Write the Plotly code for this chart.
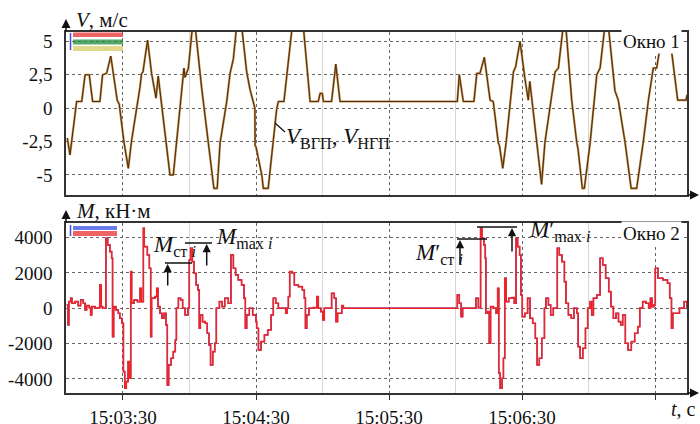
import plotly.graph_objects as go

# ---------------- data ----------------
# time in seconds after 15:00:00
V_t = [184.9, 186.1, 189.1, 191.4, 192.9, 194.8, 196.3, 199.6, 200.8, 202.6, 204.5, 205.9, 207.4, 208.3,
       210.5, 212.4, 213.9, 217.7, 218.4, 219.0, 221.1, 222.9, 224.9, 225.9, 229.4, 231.2, 232.7, 234.2,
       237.5, 238.0, 239.5, 241.4, 242.5, 245.5, 248.5, 251.0, 252.5, 253.8, 256.8, 258.3, 259.8, 261.3,
       263.5, 265.8, 267.3, 269.5, 269.6, 270.0, 272.6, 273.3, 275.5, 278.3, 279.3, 280.1, 282.6, 286.4,
       291.3, 294.4, 298.1, 298.9, 299.9, 300.4, 304.1, 306.0, 307.9, 360.8, 361.7, 363.5, 368.3, 369.6,
       371.0, 373.0, 375.6, 377.0, 379.3, 379.8, 381.3, 382.8, 386.1, 387.1, 389.1, 391.3, 392.8, 393.5,
       396.6, 397.0, 398.8, 400.3, 404.1, 404.9, 406.4, 408.6, 409.7, 412.4, 414.7, 415.2, 417.2, 418.1,
       420.7, 422.9, 423.7, 425.2, 427.4, 428.9, 431.9, 433.4, 436.5, 439.2, 441.7, 444.7, 447.0, 449.2,
       450.7, 451.9, 453.6, 455.8, 457.5, 460.2, 464.0, 464.4]
V_vgp = [-2.24, -3.5, 0.5, 0.5, 2.5, 2.5, 0.5, 0.5, 2.5, 2.6, 3.9, 2.4, 0.6, 0.3,
         -2.6, -4.5, -2.4, 1.6, 2.6, 2.7, 5.1, 2.6, 0.75, 2.4, -2.7, -5.0, -5.0, -2.6,
         3.0, 2.3, 3.0, 6.2, 6.2, 1.5, -2.6, -6.0, -6.0, -2.6, 0.5, 2.6, 3.7, 6.2,
         6.2, 2.7, 1.4, 0.0, -2.8, -2.9, -5.0, -6.0, -6.0, -1.5, -0.1, 0.5, 0.5, 6.2,
         6.2, 0.5, 0.5, 1.1, 1.1, 0.5, 0.5, 3.3, 0.5, 0.5, 2.5, 0.5, 0.5, 2.6,
         2.6, 3.8, 0.6, 0.5, -2.6, -2.8, -4.5, -2.6, 2.7, 3.1, 5.0, 2.2, 0.6, 2.0,
         -2.6, -2.8, -5.7, -2.6, 2.0, 2.7, 3.0, 6.2, 6.2, 0.6, -2.6, -3.0, -6.0, -6.0,
         -2.6, 1.3, 2.5, 3.0, 6.2, 6.2, 1.3, 0.6, -2.6, -6.0, -6.0, -2.5, 0.6, 3.0,
         3.0, 4.2, 6.2, 6.2, 4.2, 0.6, 0.6, 1.0]
V_ngp = list(V_vgp)

M_t = [184.6, 185.2, 185.6, 186.4, 187.0, 188.4, 189.8, 190.9, 192.1, 192.9, 193.6, 194.8, 195.4, 195.9,
       197.4, 198.9, 199.6, 200.2, 200.8, 202.3, 203.1, 204.1, 204.9, 205.3, 205.8, 206.8, 207.9, 208.6,
       209.5, 210.2, 210.8, 211.5, 212.3, 212.9, 213.5, 213.9, 215.0, 216.5, 217.7, 218.3, 219.2, 219.6,
       221.0, 221.9, 222.5, 222.9, 224.4, 225.2, 225.8, 226.7, 227.6, 228.5, 229.4, 230.0, 230.6, 231.7,
       232.7, 233.6, 234.1, 235.0, 236.0, 236.9, 238.0, 239.3, 239.9, 240.5, 241.3, 242.0, 243.0, 243.8,
       244.4, 244.9, 245.9, 247.1, 248.0, 248.8, 249.5, 250.5, 251.4, 252.1, 253.5, 254.7, 255.9, 257.5,
       258.7, 259.8, 260.8, 262.0, 263.5, 264.6, 265.2, 265.8, 267.0, 268.5, 270.0, 270.3, 271.1, 272.3,
       273.8, 275.3, 276.8, 277.8, 278.9, 280.1, 283.4, 284.0, 284.6, 285.2, 286.4, 287.3, 289.1, 290.9,
       291.8, 292.3, 292.9, 293.9, 295.9, 297.5, 298.1, 299.3, 300.1, 300.8, 304.1, 305.3, 306.1, 306.8,
       308.7, 309.4, 360.5, 360.8, 361.7, 362.5, 363.2, 369.2, 370.3, 371.3, 371.9, 372.8, 373.4, 373.7,
       374.5, 375.2, 375.8, 377.1, 378.3, 379.0, 379.5, 380.1, 381.0, 381.6, 382.2, 382.8, 384.0, 385.5,
       386.5, 387.3, 388.0, 388.9, 389.5, 390.1, 391.3, 392.5, 393.6, 394.8, 396.0, 396.8, 397.8, 398.9,
       400.1, 400.8, 401.9, 402.9, 404.1, 405.9, 406.8, 408.0, 409.1, 409.8, 410.9, 412.2, 413.4, 414.7,
       415.3, 416.2, 417.4, 418.6, 419.6, 420.7, 421.4, 422.2, 423.7, 425.2, 426.4, 427.7, 429.1, 430.1,
       431.2, 432.4, 433.5, 434.5, 435.4, 436.6, 437.8, 439.3, 440.8, 442.2, 443.1, 444.4, 445.9, 447.1,
       447.9, 448.6, 449.5, 450.1, 451.3, 453.5, 455.6, 456.6, 457.4, 458.0, 461.0, 463.1, 464.4]
M_vals = [188, -946, 377, 566, 282, 377, 150, 471, 282, -96, 150, 37, -379, 93,
          0, 37, 1321, 93, 0, 3966, 3588, 3210, 2832, -1607, 93, -96, -284, -568,
          -851, -3590, -4535, -4157, -3024, -3968, 2077, 282, 471, 377, 1132, 377, 4532, 3493,
          3021, 2265, -1607, 566, 660, 1132, 93, -284, -568, -284, -946, -4346, -3212, -2835,
          -2457, -1796, 0, 566, 471, 0, -379, 0, 2738, 3400, 2643, 1982, 1321, 1038,
          -1135, -379, -757, -851, -1418, -2079, -3212, -2457, -1985, 0, 377, 93, 566, 282,
          3021, 2265, 1888, 1604, 1321, 566, -1135, -379, 0, -379, -757, -1135, -2362, -1890,
          -1512, -1229, -379, 566, 282, 0, -284, 0, 660, 2077, 1982, 1321, 1227, 1038,
          566, -1135, -379, 0, 37, 660, 0, -190, -662, 0, 849, 566, -757, -284,
          150, 0, 0, 754, 282, -473, 0, 566, 37, 4532, 3966, 3588, 2832, -284,
          -190, -1985, 93, 0, -284, 1132, -3679, -4535, -3968, -2835, 1699, 377, 566, 604,
          282, 3966, 3493, 3021, 754, -473, -284, 566, -568, -851, -1701, -3212, -2835, -1701,
          0, 566, 188, -379, 0, 3399, 3021, 2643, 1510, 282, -379, -568, 0, -284,
          -2173, -2835, -2268, -1135, 0, 377, -379, 566, 754, 2832, 2455, 1699, 943, 93,
          -568, -284, -757, -946, -379, -1985, -2362, -1890, -1418, -1040, 0, 377, 282, 0,
          566, 93, 188, 2265, 1699, 1604, 1416, 566, -1135, -284, 0, 377, 0]

x_tickvals = [210, 270, 330, 390, 450]
x_ticktext = ["15:03:30", "15:04:30", "15:05:30", "15:06:30", ""]
x_minorvals = [240, 300, 360, 420]
V_tickvals = [5, 2.5, 0, -2.5, -5]
V_ticktext = ["5", "2,5", "0", "-2,5", "-5"]
M_tickvals = [4000, 2000, 0, -2000, -4000]
M_ticktext = ["4000", "2000", "0", "-2000", "-4000"]

# ---------------- layout helpers ----------------
W, H = 700, 424
L, R, T, B = 66, 13, 32, 31
PW, PH = W - L - R, H - T - B


def px(x):
    return (x - L) / PW


def py(y):
    return (H - B - y) / PH


SERIF = "Liberation Serif, Times New Roman, serif"
GRID = "#666"
DOT = "dot"
TICKFONT = dict(family=SERIF, size=19, color="#111")

fig = go.Figure()
fig.add_trace(go.Scatter(x=V_t, y=V_vgp, mode="lines", xaxis="x", yaxis="y",
                         line=dict(color="#c08a40", width=2.2), showlegend=False))
fig.add_trace(go.Scatter(x=V_t, y=V_ngp, mode="lines", xaxis="x", yaxis="y",
                         line=dict(color="#4a2c14", width=1.0), showlegend=False))
fig.add_trace(go.Scatter(x=M_t, y=M_vals, mode="lines", xaxis="x2", yaxis="y2", line_shape="hv",
                         line=dict(color="#2030d0", width=1.3), showlegend=False))
fig.add_trace(go.Scatter(x=M_t, y=M_vals, mode="lines", xaxis="x2", yaxis="y2", line_shape="hv",
                         line=dict(color="#f02424", width=1.6), showlegend=False))

xcommon = dict(range=[184.3, 464.4], tickvals=x_tickvals, showline=True, mirror=True,
               linecolor="#333", linewidth=1.5, showgrid=True, gridcolor=GRID, griddash=DOT,
               gridwidth=1, zeroline=False, automargin=False)
ycommon = dict(showline=True, mirror=True, linecolor="#333", linewidth=1.5, showgrid=True,
               gridcolor=GRID, griddash=DOT, gridwidth=1, zeroline=False, automargin=False,
               tickfont=TICKFONT, ticks="", ticklabelstandoff=8)

fig.update_layout(
    template="none",
    font=dict(family=SERIF, size=19, color="#111"),
    width=W, height=H, margin=dict(l=L, r=R, t=T, b=B, autoexpand=False),
    paper_bgcolor="white", plot_bgcolor="white",
    xaxis=dict(**xcommon, domain=[0, 1], anchor="y", showticklabels=False, ticks="", matches="x2"),
    yaxis=dict(**ycommon, domain=[py(195), 1], anchor="x", range=[-6.5, 5.7],
               tickvals=V_tickvals, ticktext=V_ticktext),
    xaxis2=dict(**xcommon, domain=[0, 1], anchor="y2", ticktext=x_ticktext, ticks="outside",
                ticklen=5, tickcolor="#333", tickfont=TICKFONT, ticklabelstandoff=1),
    yaxis2=dict(**ycommon, domain=[0, py(223)], anchor="x2", range=[-4800, 4830],
                tickvals=M_tickvals, ticktext=M_ticktext),
)

# light solid vertical grid lines at whole minutes
for xr, yr in [("x", "y"), ("x2", "y2")]:
    for mv in x_minorvals:
        fig.add_shape(type="line", xref=xr, yref=yr + " domain", x0=mv, x1=mv, y0=0, y1=1,
                      line=dict(color="#d6d6d6", width=1), layer="below")

ann = []
# axis titles
ann.append(dict(text="<i>V</i>, м/с", xref="paper", yref="paper", x=px(74), y=py(20),
                xanchor="left", yanchor="middle", showarrow=False,
                font=dict(family=SERIF, size=21, color="#111")))
ann.append(dict(text="<i>M</i>, кН·м", xref="paper", yref="paper", x=px(74), y=py(211),
                xanchor="left", yanchor="middle", showarrow=False,
                font=dict(family=SERIF, size=21, color="#111")))
ann.append(dict(text="<i>t</i>, с", xref="paper", yref="paper", x=px(698), y=py(409),
                xanchor="right", yanchor="middle", showarrow=False,
                font=dict(family=SERIF, size=20, color="#111")))
# axis arrows
for (hx, hy, axo, ayo) in [(66, 19, 0, 14), (66, 210, 0, 14), (699, 195, -13, 0), (699, 393, -13, 0)]:
    ann.append(dict(xref="paper", yref="paper", x=px(hx), y=py(hy), ax=axo, ay=ayo, text="",
                    showarrow=True, arrowhead=2, arrowsize=1.2, arrowwidth=1.5, arrowcolor="#111"))
# window labels
ann.append(dict(text="Окно 1", xref="paper", yref="paper", x=px(682), y=py(42), xanchor="right",
                yanchor="middle", showarrow=False, bgcolor="white",
                font=dict(family=SERIF, size=19, color="#111")))
ann.append(dict(text="Окно 2", xref="paper", yref="paper", x=px(682), y=py(233), xanchor="right",
                yanchor="middle", showarrow=False, bgcolor="white",
                font=dict(family=SERIF, size=19, color="#111")))
# V label with leader line
ann.append(dict(text="<i>V</i><sub>ВГП</sub>, <i>V</i><sub>НГП</sub>", xref="paper", yref="paper",
                x=px(284), y=py(138), xanchor="left", yanchor="middle", showarrow=False,
                font=dict(family=SERIF, size=23, color="#111")))
fig.add_shape(type="line", xref="paper", yref="paper", x0=px(275), y0=py(123), x1=px(285), y1=py(132),
              line=dict(color="#111", width=1.2))
# M annotations
labels = [
    ("<i>M</i><sub>ст <i>i</i></sub>", 151, 246),
    ("<i>M</i><sub>max <i>i</i></sub>", 214, 238),
    ("<i>M</i>′<sub>ст <i>i</i></sub>", 413, 254),
    ("<i>M</i>′<sub>max <i>i</i></sub>", 527, 231),
]
for txt, lx, ly in labels:
    ann.append(dict(text=txt, xref="paper", yref="paper", x=px(lx), y=py(ly), xanchor="left",
                    yanchor="middle", showarrow=False, font=dict(family=SERIF, size=23, color="#111")))
# level lines and arrows (pixel positions of the markers)
for (x0, x1, yl, ax_, ay0) in [(165, 192, 263, 167.7, 286), (185, 212, 243, 206.7, 266),
                                (457, 487, 239, 460, 265), (477, 517, 227, 512, 252)]:
    fig.add_shape(type="line", xref="paper", yref="paper", x0=px(x0), x1=px(x1), y0=py(yl), y1=py(yl),
                  line=dict(color="#111", width=1.5))
    ann.append(dict(xref="paper", yref="paper", x=px(ax_), y=py(yl + 1), ax=0, ay=ay0 - yl, text="",
                    showarrow=True, arrowhead=2, arrowsize=1.1, arrowwidth=1.5, arrowcolor="#111"))

# small legend swatches of the original oscillogram windows
for (x0, x1, y0, y1, c) in [(73, 123, 32.5, 37, "#e83030"), (73, 123, 39.5, 44.5, "#1f8a3a"),
                            (73, 123, 46, 51, "#d8cc60"), (73, 117, 226, 230, "#3a50e0"),
                            (73, 117, 231, 236, "#e83030")]:
    fig.add_shape(type="rect", xref="paper", yref="paper", x0=px(x0), x1=px(x1), y0=py(y1), y1=py(y0),
                  fillcolor=c, opacity=0.75, line=dict(width=0))
for (y0, y1) in [(33, 50), (225, 236)]:
    fig.add_shape(type="line", xref="paper", yref="paper", x0=px(70.5), x1=px(70.5), y0=py(y1), y1=py(y0),
                  line=dict(color="#3a50e0", width=1.5))

fig.update_layout(annotations=ann)
fig.write_html("out.html", config={"displayModeBar": False},
               post_script="document.body.style.margin='0px';document.body.style.overflow='hidden';")
